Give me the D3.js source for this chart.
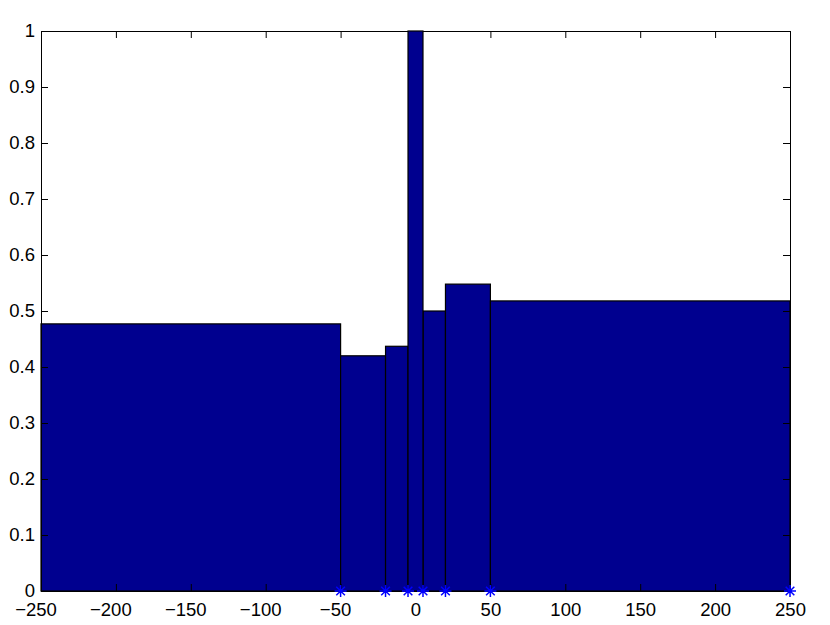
<!DOCTYPE html>
<html>
<head>
<meta charset="utf-8">
<script src="https://cdn.jsdelivr.net/npm/d3@7"></script>
<style>
  body { margin: 0; background: #fff; }
</style>
</head>
<body>
<div class="chart"></div>
<script>
// bin edges and bar heights (variable width histogram)
const binEdges = [-250, -50, -20, -5, 5, 20, 50, 250];
const binValues = [0.477, 0.42, 0.437, 1.0, 0.5, 0.548, 0.518];
// blue star markers along the baseline
const markerX = [-50, -20, -5, 5, 20, 50, 250];
const xTicks = [-250, -200, -150, -100, -50, 0, 50, 100, 150, 200, 250];
const yTicks = [0, 0.1, 0.2, 0.3, 0.4, 0.5, 0.6, 0.7, 0.8, 0.9, 1];

const W = 830, H = 625;
const margin = {top: 31, right: 40, bottom: 34, left: 41};
const width = W - margin.left - margin.right,
      height = H - margin.top - margin.bottom;

const svg = d3.select(".chart").append("svg")
    .attr("width", W)
    .attr("height", H);
const g = svg.append("g")
    .attr("transform", "translate(" + margin.left + "," + margin.top + ")");

const x = d3.scaleLinear().domain([-250, 250]).range([0, width]);
const y = d3.scaleLinear().domain([0, 1]).range([height, 0]);

const bins = binValues.map((v, i) => ({x0: binEdges[i], x1: binEdges[i + 1], v: v}));

// bars
g.selectAll(".bar")
    .data(bins)
  .enter().append("rect")
    .attr("class", "bar")
    .attr("x", d => x(d.x0))
    .attr("y", d => y(d.v))
    .attr("width", d => x(d.x1) - x(d.x0))
    .attr("height", d => y(0) - y(d.v))
    .style("fill", "#00008f")
    .style("stroke", "#000")
    .style("stroke-width", 1.2);

// axes box + ticks (inward, on all four sides)
const fmt = d => (d < 0 ? "\u2212" + Math.abs(d) : String(d));
const tick = 7;

const xAxis = g.append("g").attr("class", "axis")
    .attr("transform", "translate(0," + height + ")")
    .call(d3.axisBottom(x).tickValues(xTicks).tickSize(-tick).tickPadding(12).tickFormat(fmt));
g.append("g").attr("class", "axis")
    .call(d3.axisTop(x).tickValues(xTicks).tickSize(-tick).tickFormat(""));
g.append("g").attr("class", "axis")
    .call(d3.axisLeft(y).tickValues(yTicks).tickSize(-tick).tickPadding(6).tickFormat(d => String(+d.toFixed(1))));
g.append("g").attr("class", "axis")
    .attr("transform", "translate(" + width + ",0)")
    .call(d3.axisRight(y).tickValues(yTicks).tickSize(-tick).tickFormat(""));

g.selectAll(".axis")
    .attr("font-family", "'Liberation Sans', Arial, sans-serif")
    .attr("font-size", 18.5);
g.selectAll(".axis text").style("font-size", "18.5px").style("fill", "#000");
g.selectAll(".axis .domain").style("stroke", "#000").style("stroke-width", 1);
g.selectAll(".axis .tick line").style("stroke", "#000").style("stroke-width", 1);

// matlab centres the digits, the minus sign hangs to the left
xAxis.selectAll(".tick text").filter(d => d < 0).attr("dx", "-0.3em");

// the tall bar sits over the top edge like the original
g.selectAll(".bar").filter(d => d.v >= 1).raise();

// matlab style '*' marker: four strokes through the centre
const matStar = {
  draw(ctx, size) {
    const r = Math.sqrt(size) / 2, q = r * 0.72;
    ctx.moveTo(0, -r); ctx.lineTo(0, r);
    ctx.moveTo(-r, 0); ctx.lineTo(r, 0);
    ctx.moveTo(-q, -q); ctx.lineTo(q, q);
    ctx.moveTo(-q, q); ctx.lineTo(q, -q);
  }
};
g.selectAll(".marker")
    .data(markerX)
  .enter().append("path")
    .attr("class", "marker")
    .attr("transform", d => "translate(" + x(d) + "," + y(0) + ")")
    .attr("d", d3.symbol().type(matStar).size(144))
    .style("fill", "none")
    .style("stroke", "#0000ff")
    .style("stroke-width", 1.5);
</script>
</body>
</html>
